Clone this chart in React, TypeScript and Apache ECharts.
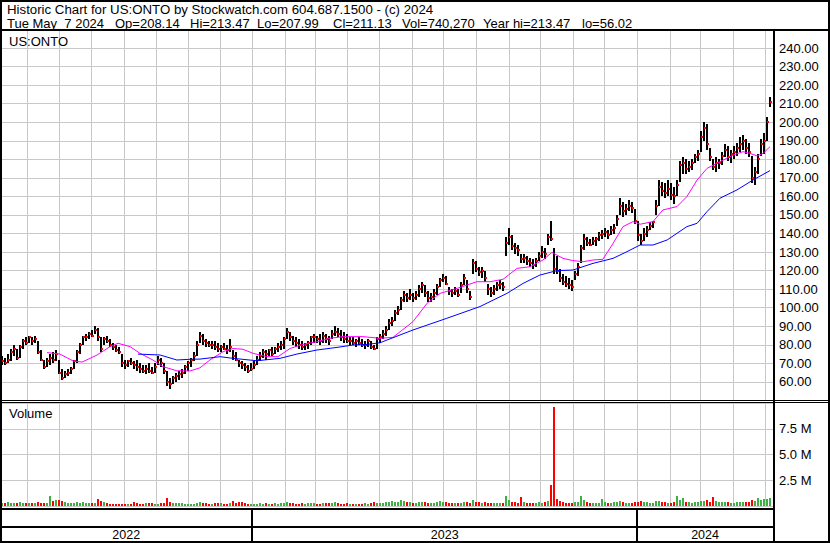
import React, { useEffect, useRef } from 'react';
import * as echarts from 'echarts';

// ---- Data (one bar ≈ two trading days) ----
const HIGH = [
  74,73,75,78,80,78,80,83,84,85,
  84,85,82,77,72,73,75,76,77,72,
  67,66,67,68,72,77,81,85,86,87,
  88,90,89,84,84,85,83,81,80,79,
  75,72,72,73,71,72,70,69,69,70,
  68,70,74,73,70,66,62,63,65,66,
  67,69,71,73,76,82,87,86,83,82,
  82,82,81,80,81,80,83,77,76,72,
  71,70,69,70,71,74,76,78,77,78,
  79,79,81,82,84,89,87,85,84,83,
  82,81,82,85,86,85,86,87,86,85,
  88,90,89,88,87,86,84,84,83,84,
  83,82,83,82,80,84,86,88,90,94,
  95,99,101,106,109,108,110,108,109,112,
  114,112,109,108,110,113,116,118,117,111,
  110,111,110,114,118,115,109,126,125,122,
  122,120,113,111,112,114,115,114,138,143,
  139,135,134,129,129,128,127,126,127,130,
  133,132,140,147,132,128,121,118,117,116,
  115,120,124,134,140,138,137,138,138,141,
  142,143,142,144,145,150,159,157,156,158,
  157,153,147,140,143,144,146,147,158,169,
  168,167,169,167,165,169,179,181,180,179,
  180,183,185,195,200,199,186,180,181,180,
  184,188,187,185,187,189,192,193,191,189,
  182,176,183,191,194,203,213.47,
];
const LOW = [
  69,69,70,71,74,72,73,78,80,81,
  80,81,75,71,67,68,69,70,71,64,
  61,62,63,64,67,70,75,80,82,83,
  84,86,82,76,80,81,79,77,76,75,
  68,67,68,69,67,66,65,65,64,65,
  64,65,69,68,64,58,56.02,59,60,61,
  62,64,66,68,71,74,81,80,79,79,
  78,77,76,76,77,75,76,72,71,68,
  67,66,65,66,67,69,71,73,72,74,
  74,75,76,77,78,83,82,80,79,78,
  77,77,78,80,81,81,80,81,81,80,
  83,85,84,82,81,81,80,80,79,80,
  79,78,79,78,77,78,81,83,85,88,
  90,93,96,99,103,103,104,103,104,106,
  108,106,103,103,104,107,111,114,112,107,
  106,107,106,108,112,108,104,118,119,117,
  116,114,107,106,107,109,110,109,128,134,
  131,129,128,124,124,123,122,121,122,125,
  127,126,134,136,118,118,114,112,111,110,
  109,115,117,124,131,133,133,134,133,136,
  137,138,137,139,140,144,150,149,150,152,
  151,145,136,134,136,138,142,143,150,155,
  160,159,160,158,156,160,168,172,172,173,
  174,178,179,184,190,185,179,174,173,175,
  177,181,179,178,180,182,184,185,183,181,
  167,166,172,182,183,190,207.99,
];
const CLOSE = [
  71,70,72,76,78,73,79,82,81,84,
  82,83,76,72,68,71,73,72,75,65,
  62,64,65,67,71,76,80,84,84,86,
  85,88,84,78,83,82,80,79,77,76,
  70,69,71,70,69,68,67,66,67,66,
  65,68,72,70,66,60,59,62,63,64,
  65,68,70,72,74,80,85,82,81,80,
  80,79,78,79,78,77,79,74,72,70,
  69,68,66,67,69,72,74,76,75,77,
  75,78,79,80,83,87,84,82,81,80,
  79,80,81,84,84,83,82,85,83,82,
  86,87,86,84,83,82,82,81,82,81,
  80,80,82,79,78,83,84,86,88,92,
  93,97,99,104,107,105,107,105,107,110,
  112,108,105,106,108,111,115,116,113,109,
  108,109,107,112,116,110,106,124,121,119,
  120,116,110,108,110,112,113,111,135,138,
  133,132,131,126,127,125,124,123,125,128,
  130,129,138,137,121,120,116,114,113,112,
  111,118,122,132,137,135,134,136,137,139,
  140,141,139,142,143,148,155,152,153,155,
  154,147,139,136,140,142,144,146,155,165,
  163,162,164,161,160,166,177,178,175,176,
  178,181,183,192,197,188,181,176,178,178,
  182,185,181,183,184,186,188,190,186,184,
  170,173,180,188,190,200,211.13,
];
// volume in millions of shares
const VOLUME_M = [
  0.30,0.28,0.35,0.25,0.30,0.32,0.40,0.28,0.25,0.30,
  0.25,0.28,0.35,0.30,0.32,0.30,1.00,0.45,0.60,0.55,
  0.50,0.35,0.30,0.28,0.30,0.35,0.32,0.40,0.30,0.25,
  0.30,0.28,0.70,0.45,0.40,0.25,0.20,0.22,0.18,0.20,
  0.22,0.20,0.18,0.20,0.40,0.25,0.20,0.22,0.25,0.28,
  0.30,0.22,0.20,0.25,0.30,0.80,0.40,0.30,0.28,0.30,
  0.25,0.22,0.20,0.20,0.22,0.25,0.35,0.30,0.25,0.22,
  0.20,0.30,0.32,0.25,0.22,0.20,0.25,0.45,0.30,0.40,
  0.35,0.25,0.20,0.18,0.20,0.22,0.25,0.20,0.28,0.22,
  0.20,0.25,0.22,0.30,0.25,0.40,0.30,0.25,0.22,0.20,
  0.25,0.22,0.30,0.28,0.25,0.20,0.22,0.25,0.30,0.25,
  0.28,0.35,0.25,0.22,0.20,0.25,0.22,0.20,0.18,0.20,
  0.22,0.25,0.20,0.30,0.35,0.28,0.30,0.32,0.35,0.40,
  0.45,0.38,0.40,0.55,0.45,0.35,0.40,0.30,0.28,0.35,
  0.40,0.35,0.30,0.32,0.28,0.35,0.45,0.40,0.35,0.30,
  0.28,0.30,0.25,0.32,0.40,0.35,0.30,0.55,0.40,0.35,
  0.30,0.35,0.30,0.25,0.28,0.30,0.25,0.30,1.00,0.55,
  0.40,0.35,0.30,0.90,0.40,0.30,0.28,0.25,0.30,0.35,
  0.30,0.35,0.50,2.00,9.60,0.65,0.45,0.35,0.30,0.30,
  0.28,0.35,0.40,1.00,0.55,0.35,0.30,0.28,0.30,0.32,
  0.70,0.35,0.30,0.32,0.35,0.40,0.45,0.35,0.30,0.32,
  0.30,0.35,0.40,0.45,0.40,0.35,0.30,0.32,0.50,0.45,
  0.40,0.35,0.30,0.32,0.35,1.00,0.55,0.80,0.40,0.35,
  0.32,0.35,0.40,0.45,0.50,0.55,0.40,0.90,0.45,0.40,
  0.35,0.40,0.35,0.30,0.32,0.35,0.40,0.38,0.35,0.40,
  0.55,0.50,0.80,0.60,0.65,0.70,0.74,
];
// moving averages: [bar index, value]
const MA_SHORT = [
  [15,75.8],[19.3,75],[23.7,71.3],[26.7,70.7],[31.7,74.5],[36,79],[38.7,80.8],[42.7,79],
  [46,75.4],[50.3,71.8],[53.7,68.2],[58.3,66],[62.7,65.9],[66,67.6],[69.3,71.8],[73.7,76.3],
  [77,78],[80.3,77.6],[83.7,75.4],[88.3,73.6],[92,73.6],[96,78],[100.3,80.2],[105,81.7],
  [109.3,83.5],[113.7,84.4],[120.3,84.4],[126,83.5],[130.3,84],[137,92.5],[141.7,102.4],
  [146,107.7],[151.7,110.4],[158.3,114],[162.7,114],[167,115.3],[171.7,121.2],[176,122.1],
  [180.3,125.7],[183.3,129.8],[187,126.6],[190.3,125.4],[193.7,124.8],[197,125.7],
  [200.3,126.1],[203.7,134.7],[207,143.7],[210.3,146.4],[212.7,145],[217,146.4],
  [220.3,152.7],[225,154.5],[228.3,159.9],[231.7,168.8],[235,175.1],[239.3,178.7],
  [243.7,182.3],[247,184.1],[249.3,183.2],[251.7,181.8],[253.7,183.2],[256,186.8],
];
const MA_LONG = [
  [45.3,75],[52.7,74.5],[58.3,71.8],[62.7,72.2],[66,72.3],[72.7,73.6],[77,72.7],[85,71.4],
  [92.7,72.7],[98.3,75],[105,77.2],[111.7,78.6],[117,79.9],[121.7,80.2],[126,81.1],
  [137,88],[148.3,94.3],[159.3,100.6],[168.3,107.7],[173.7,113.1],[179.3,117.6],[185,120],
  [190.3,120.3],[197,123.9],[203.7,126.6],[208.3,130.2],[212.7,133.8],[217,133.8],
  [221.7,136.5],[228.3,143.7],[231.7,145.5],[235,151.8],[239.3,159],[245,163.5],
  [250.3,168.8],[256,173.9],
];
const YEAR_LABELS = ['2022', '2023', '2024'];
const HEADER_1 = 'Historic Chart for US:ONTO by Stockwatch.com 604.687.1500 - (c) 2024';
const HEADER_2_FIELDS = [
  'Tue May\u00a0 7 2024', 'Op=208.14', 'Hi=213.47', 'Lo=207.99', 'Cl=211.13',
  'Vol=740,270', 'Year hi=213.47', 'lo=56.02',
];
const HEADER_2_X = [7, 115, 190, 257, 333, 402, 483, 582];
const SYMBOL_LABEL = 'US:ONTO';
const VOLUME_LABEL = 'Volume';

const FONT = '"Liberation Sans", Arial, sans-serif';
const GRID_COLOR = '#c8c8c8';

export default function App() {
  const ref = useRef<HTMLDivElement>(null);
  useEffect(() => {
    if (!ref.current) return;
    const chart = echarts.init(ref.current, undefined, { renderer: 'svg' });
    const nBars = HIGH.length;
    const tMin = new Date(2022, 4, 8, 7).getTime();
    const tMax = new Date(2024, 4, 9, 0).getTime();
    const monthStarts: number[][] = [];
    for (let m = 0; m < 24; m++) monthStarts.push([new Date(2022, 5 + m, 1).getTime(), 0]);
    const years = YEAR_LABELS.map((y) => [
      new Date(Number(y), 0, 1).getTime(),
      new Date(Number(y) + 1, 0, 1).getTime(),
    ]);

    const monthLineRender = (params: any, api: any) => {
      const cs = params.coordSys;
      const x = Math.round(api.coord([api.value(0), 0])[0]) + 0.5;
      return {
        type: 'line',
        shape: { x1: x, y1: cs.y, x2: x, y2: cs.y + cs.height },
        style: { stroke: GRID_COLOR, lineWidth: 1 },
      };
    };

    const priceData = HIGH.map((h, i) => [i, h, LOW[i], CLOSE[i]]);
    const volData = VOLUME_M.map((v, i) => [i, v, i === 0 || CLOSE[i] >= CLOSE[i - 1] ? 1 : 0]);

    const headerTexts = HEADER_2_FIELDS.map((t, i) => ({
      type: 'text', z: 100, x: HEADER_2_X[i], y: 23,
      style: { text: t, fontSize: 13, fontFamily: FONT, fill: '#000', verticalAlign: 'middle' },
    }));

    chart.setOption({
      animation: false,
      backgroundColor: '#fff',
      grid: [
        { left: 2, right: 57, top: 29.45, height: 371 },
        { left: 2, right: 57, top: 403, height: 103 },
        { left: 2, right: 57, top: 508, height: 34 },
      ],
      xAxis: [
        { type: 'value', gridIndex: 0, min: 0, max: nBars, show: false },
        { type: 'value', gridIndex: 1, min: 0, max: nBars, show: false },
        { type: 'time', gridIndex: 0, min: tMin, max: tMax, show: false },
        { type: 'time', gridIndex: 1, min: tMin, max: tMax, show: false },
        { type: 'time', gridIndex: 2, min: tMin, max: tMax, show: false },
      ],
      yAxis: [
        {
          type: 'value', gridIndex: 0, position: 'right', min: 50, max: 250, interval: 10,
          axisLine: { show: false }, axisTick: { show: false },
          splitLine: { show: true, lineStyle: { color: GRID_COLOR, width: 1 } },
          axisLabel: {
            margin: 6, color: '#000', fontSize: 13, fontFamily: FONT,
            formatter: (v: number) => (v <= 50 || v >= 250 ? '' : v.toFixed(2)),
          },
        },
        {
          type: 'value', gridIndex: 1, position: 'right', min: 0, max: 10, interval: 2.5,
          axisLine: { show: false }, axisTick: { show: false },
          splitLine: { show: true, lineStyle: { color: GRID_COLOR, width: 1 } },
          axisLabel: {
            margin: 6, color: '#000', fontSize: 13, fontFamily: FONT,
            formatter: (v: number) => (v <= 0 || v >= 10 ? '' : v.toFixed(1) + ' M'),
          },
        },
        { type: 'value', gridIndex: 2, min: 0, max: 1, show: false },
      ],
      series: [
        {
          type: 'custom', xAxisIndex: 2, yAxisIndex: 0, z: 1, silent: true,
          data: monthStarts, renderItem: monthLineRender,
        },
        {
          type: 'custom', xAxisIndex: 3, yAxisIndex: 1, z: 1, silent: true,
          data: monthStarts, renderItem: monthLineRender,
        },
        {
          type: 'custom', xAxisIndex: 0, yAxisIndex: 0, z: 3, silent: true,
          data: priceData,
          renderItem: (params: any, api: any) => {
            const k = api.value(0);
            const pt = api.coord([k, api.value(1)]);
            const pb = api.coord([k, api.value(2)]);
            const pc = api.coord([k, api.value(3)]);
            const x = Math.round(pt[0]) - 1;
            const yt = Math.round(pt[1]);
            return {
              type: 'group',
              children: [
                { type: 'rect', shape: { x, y: yt, width: 2, height: Math.max(1, Math.round(pb[1]) - yt) }, style: { fill: '#000' } },
                { type: 'rect', shape: { x: x + 1, y: Math.round(pc[1]) - 1, width: 2, height: 2 }, style: { fill: '#ff0000' } },
              ],
            };
          },
        },
        {
          type: 'line', xAxisIndex: 0, yAxisIndex: 0, z: 4, data: MA_SHORT, showSymbol: false,
          symbol: 'none', lineStyle: { color: '#ff00ff', width: 1 }, silent: true,
        },
        {
          type: 'line', xAxisIndex: 0, yAxisIndex: 0, z: 4, data: MA_LONG, showSymbol: false,
          symbol: 'none', lineStyle: { color: '#0000ff', width: 1 }, silent: true,
        },
        {
          type: 'custom', xAxisIndex: 1, yAxisIndex: 1, z: 3, silent: true,
          data: volData,
          renderItem: (params: any, api: any) => {
            const k = api.value(0);
            const top = api.coord([k, api.value(1)]);
            const base = api.coord([k, 0]);
            const x = Math.round(top[0]) - 1;
            const yt = Math.round(top[1]);
            return {
              type: 'rect',
              shape: { x, y: yt, width: 2, height: Math.max(1, Math.round(base[1]) - yt) },
              style: { fill: api.value(2) ? '#3cb043' : '#ff0000' },
            };
          },
        },
        {
          type: 'custom', xAxisIndex: 4, yAxisIndex: 2, z: 5, silent: true, clip: false,
          data: years,
          renderItem: (params: any, api: any) => {
            const cs = params.coordSys;
            const xa = Math.max(api.coord([api.value(0), 0])[0], cs.x - 2);
            const xbRaw = api.coord([api.value(1), 0])[0];
            const xb = Math.min(xbRaw, cs.x + cs.width);
            const children: any[] = [
              {
                type: 'text', x: (xa + xb) / 2, y: cs.y + 26.5,
                style: {
                  text: YEAR_LABELS[params.dataIndex], fontSize: 12.5, fontFamily: FONT,
                  fill: '#000', align: 'center', verticalAlign: 'middle',
                },
              },
            ];
            if (xbRaw < cs.x + cs.width) {
              children.push({
                type: 'rect',
                shape: { x: Math.round(xb) - 1, y: cs.y, width: 2, height: cs.height },
                style: { fill: '#000' },
              });
            }
            return { type: 'group', children };
          },
        },
      ],
      graphic: [
        { type: 'rect', z: 100, silent: true, shape: { x: 1, y: 1, width: 828, height: 541 }, style: { fill: 'none', stroke: '#000', lineWidth: 2 } },
        { type: 'rect', z: 100, silent: true, shape: { x: 0, y: 29, width: 830, height: 2 }, style: { fill: '#000' } },
        { type: 'rect', z: 100, silent: true, shape: { x: 773, y: 30, width: 2, height: 513 }, style: { fill: '#000' } },
        { type: 'rect', z: 100, silent: true, shape: { x: 0, y: 400, width: 830, height: 1 }, style: { fill: '#000' } },
        { type: 'rect', z: 100, silent: true, shape: { x: 0, y: 402, width: 830, height: 1 }, style: { fill: '#000' } },
        { type: 'rect', z: 100, silent: true, shape: { x: 0, y: 508, width: 774, height: 2 }, style: { fill: '#000' } },
        { type: 'rect', z: 100, silent: true, shape: { x: 0, y: 526, width: 774, height: 2 }, style: { fill: '#000' } },
        { type: 'text', z: 100, x: 7, y: 9, style: { text: HEADER_1, fontSize: 13.25, fontFamily: FONT, fill: '#000', verticalAlign: 'middle' } },
        ...headerTexts,
        { type: 'text', z: 100, x: 9, y: 41, style: { text: SYMBOL_LABEL, fontSize: 13, fontFamily: FONT, fill: '#000', verticalAlign: 'middle' } },
        { type: 'text', z: 100, x: 9, y: 413, style: { text: VOLUME_LABEL, fontSize: 13, fontFamily: FONT, fill: '#000', verticalAlign: 'middle' } },
      ],
    });
    return () => chart.dispose();
  }, []);
  return (
    <div
      ref={ref}
      style={{ position: 'fixed', left: 0, top: 0, width: 830, height: 543, background: '#fff' }}
    />
  );
}
